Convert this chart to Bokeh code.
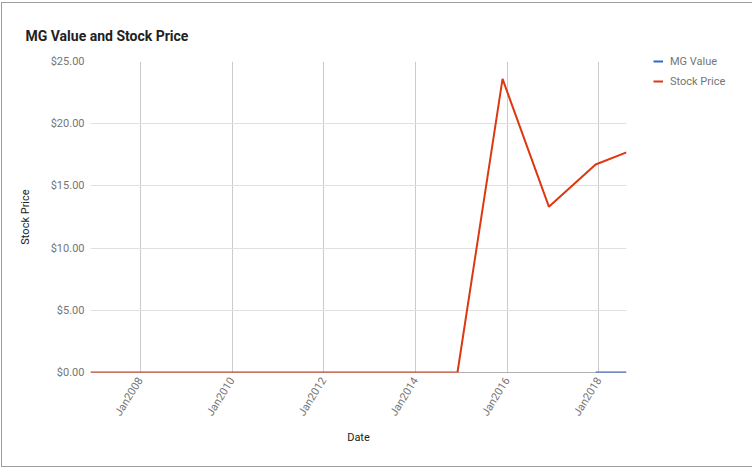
import numpy as np
import pandas as pd
from bokeh.plotting import figure
from bokeh.models import (FixedTicker, DatetimeTickFormatter, NumeralTickFormatter,
                          Legend, LegendItem, Span, Range1d)
from bokeh.embed import file_html
from bokeh.resources import INLINE

# ---- data ----
dates = ["2006-12-01", "2007-12-01", "2008-12-01", "2009-12-01", "2010-12-01",
         "2011-12-01", "2012-12-01", "2013-12-01", "2014-12-01", "2015-11-25",
         "2016-11-28", "2017-12-05", "2018-08-08"]
stock_price = [0, 0, 0, 0, 0, 0, 0, 0, 0, 23.60, 13.33, 16.72, 17.69]
mg_value = [np.nan, np.nan, np.nan, np.nan, np.nan, np.nan, np.nan, np.nan,
            np.nan, np.nan, np.nan, 0, 0]
x_tick_dates = ["2008-01-01", "2010-01-01", "2012-01-01", "2014-01-01",
                "2016-01-01", "2018-01-01"]
y_ticks = [0, 5, 10, 15, 20, 25]

x = pd.to_datetime(dates)
x_ticks_ms = [pd.Timestamp(d).value / 1e6 for d in x_tick_dates]

FONT = "Roboto"

p = figure(frame_width=536, frame_height=311, x_axis_type="datetime",
           output_backend="svg", toolbar_location=None,
           min_border_left=89, min_border_right=120,
           min_border_top=59, min_border_bottom=95)
p.styles = {"margin-left": "1px", "margin-top": "2px",
            "box-shadow": "inset 0 0 0 1px #9e9e9e"}

p.x_range = Range1d(x[0], x[-1])
p.y_range = Range1d(0, 25)

p.background_fill_color = "white"
p.border_fill_alpha = 0
p.outline_line_color = None

# title
p.title.text = "MG Value and Stock Price"
p.title.text_font = FONT
p.title.text_font_style = "bold"
p.title.text_font_size = "14px"
p.title.text_color = "#222222"
p.title.align = "left"
p.title.offset = -65
p.title.standoff = 35

# grids
p.xgrid.ticker = FixedTicker(ticks=x_ticks_ms)
p.xgrid.grid_line_color = "#cccccc"
p.ygrid.grid_line_color = "#e0e0e0"

# axes
for ax in (p.xaxis[0], p.yaxis[0]):
    ax.axis_line_color = None
    ax.major_tick_line_color = None
    ax.minor_tick_line_color = None
    ax.major_tick_out = 0
    ax.major_tick_in = 0
    ax.minor_tick_out = 0
    ax.minor_tick_in = 0
    ax.major_label_text_font = FONT
    ax.major_label_text_font_size = "11px"
    ax.major_label_text_color = "#757575"
    ax.axis_label_text_font = FONT
    ax.axis_label_text_font_size = "11px"
    ax.axis_label_text_font_style = "normal"
    ax.axis_label_text_color = "#222222"
    ax.major_label_standoff = 6

p.xaxis.ticker = FixedTicker(ticks=x_ticks_ms)
p.xaxis.formatter = DatetimeTickFormatter(years="%b%Y", months="%b%Y",
                                          days="%b%Y", hours="%b%Y")
p.xaxis.major_label_orientation = np.deg2rad(58)
p.xaxis.axis_label = "Date"
p.xaxis.axis_label_standoff = 6

p.yaxis.ticker = FixedTicker(ticks=y_ticks)
p.yaxis.formatter = NumeralTickFormatter(format="$0.00")
p.yaxis.axis_label = "Stock Price"
p.yaxis.axis_label_standoff = 16

# baseline
p.add_layout(Span(location=0, dimension="width", line_color="#666666",
                  line_width=1, level="underlay"))

# series
r_mg = p.line(x, mg_value, line_color="#3366cc", line_width=2)
r_sp = p.line(x, stock_price, line_color="#dc3912", line_width=2)

legend = Legend(items=[LegendItem(label="MG Value", renderers=[r_mg]),
                       LegendItem(label="Stock Price", renderers=[r_sp])],
                location=(27, 281), border_line_color=None,
                background_fill_alpha=0, padding=0, margin=0, spacing=0,
                label_height=20, glyph_height=20, glyph_width=10,
                label_standoff=7, label_text_font=FONT,
                label_text_font_size="11px", label_text_color="#757575")
p.add_layout(legend, "right")

open("out.html", "w").write(file_html(p, INLINE))
